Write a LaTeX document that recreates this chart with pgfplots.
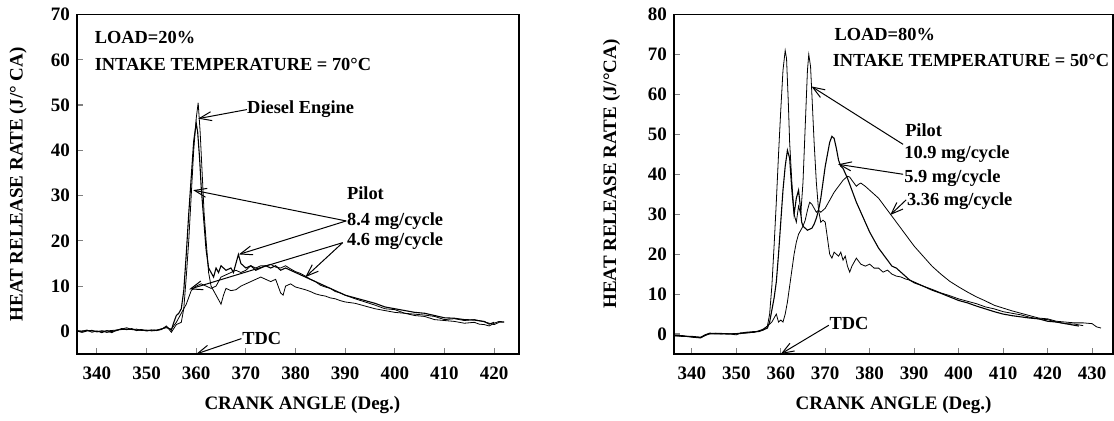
\documentclass[border=0pt]{standalone}
\usepackage{fontspec}
\setmainfont{Liberation Serif}
\usepackage{pgfplots}
\pgfplotsset{compat=1.18}
\usetikzlibrary{arrows.meta}
\tikzset{
  arr/.style={line width=0.5pt, -{Straight Barb[length=6pt,width=4.5pt]}},
  ann/.style={font=\bfseries\fontsize{9.2}{10}\selectfont, inner sep=0pt},
}
\pgfplotsset{
  hrr/.style={
    scale only axis,
    anchor=south west,
    axis line style={line width=0.6pt},
    tick align=inside,
    xtick pos=bottom, ytick pos=left,
    major tick length=3pt,
    tick style={line width=0.6pt},
    /pgf/number format/assume math mode=true,
    ticklabel style={font=\bfseries\fontsize{9.5}{10}\selectfont},
    xticklabel style={yshift=-3pt},
    label style={font=\bfseries\fontsize{9.5}{10}\selectfont},
    cycle list={{black, line width=0.55pt}},
    every axis plot/.append style={no marks},
    clip=false,
  },
}
\begin{document}
\begin{tikzpicture}
\useasboundingbox (0,0) rectangle (557pt,210pt);
% ---------------- LEFT ----------------
\begin{axis}[hrr, at={(38.5pt,33pt)}, width=221pt, height=169.75pt,
  xmin=336, xmax=425, ymin=-5, ymax=70,
  xtick={340,350,...,420}, ytick={0,10,...,70},
  xlabel={CRANK ANGLE (Deg.)},
  ylabel={HEAT RELEASE RATE (J/° CA)},
  ylabel style={at={(axis description cs:-0.1335,0.5)}, anchor=center},
  xlabel style={at={(axis description cs:0.51,-0.15)}, anchor=center},
]
% Diesel engine
\addplot coordinates {(336,0.2)(337,0)(338,0.3)(339,-0.2)(340,0.1)(341,-0.3)(342,0.2)(343,-0.3)(344,0.3)(345,0.5)(346,0.8)(347,0.4)(348,0.5)(349,0.2)(350,0.3)(351,0.1)(352,0.2)(353,0.4)(354,1.2)(355,-0.2)(356,1.5)(357,2)(357.5,5)(358,12)(358.5,20)(359,30)(359.5,40)(360,47)(360.4,50.5)(360.8,44)(361.2,35)(361.6,26)(362,20)(362.5,13)(363,10)(363.5,9)(364,8)(364.5,7)(365,6)(365.5,8)(366,9.5)(367,9)(368,9.2)(369,10)(370,10.5)(371,11)(372,11.5)(373,12)(374,11.5)(375,11)(376,11.5)(377,8.5)(377.5,8)(378,10)(379,10.5)(380,9.8)(381,9.5)(382,9.2)(383,8.8)(384,8.3)(385,8)(386,7.8)(387,7.4)(388,7.2)(389,6.8)(390,6.5)(392,6.2)(394,5.6)(396,5.0)(398,4.6)(400,4.2)(402,4.0)(404,3.5)(406,3.3)(408,2.6)(410,2.4)(412,2.2)(414,1.8)(416,2.0)(417,1.6)(418,1.5)(419,1.2)(420,1.8)(421,2.2)(422,2.1)};
% Pilot 8.4 mg/cycle
\addplot coordinates {(336,0.1)(337,-0.2)(338,0.1)(339,0.2)(340,-0.1)(341,0.1)(342,-0.2)(343,0)(344,0.2)(345,0.6)(346,0.4)(347,0.6)(348,0.2)(349,0.4)(350,0.1)(351,0.3)(352,0.2)(353,0.5)(354,1)(355,0.3)(355.5,2)(356,3.5)(356.5,4)(357,5)(357.5,9)(358,17)(358.5,26)(359,34)(359.5,42)(360,46)(360.3,44)(360.7,38)(361,32)(361.5,25)(362,18)(362.5,14)(363,13)(363.5,12)(364,14)(364.5,13)(365,14.5)(366,13.5)(367,14)(367.5,13)(368,15)(368.5,17)(369,15)(370,14)(371,14.5)(372,13.5)(373,14)(374,14.5)(375,14)(376,14.5)(377,13.5)(378,14)(379,13.5)(380,13)(381,12.5)(382,12)(383,11.5)(384,11)(385,10.5)(386,10)(387,9.5)(388,9)(389,8.5)(390,8)(392,7.4)(394,6.8)(396,6.2)(398,5.4)(400,5.0)(402,4.6)(404,4.2)(406,4.0)(408,3.5)(410,3.0)(412,2.9)(414,2.6)(416,2.5)(418,2.2)(419,1.6)(420,2.0)};
% Pilot 4.6 mg/cycle
\addplot coordinates {(336,0)(338,0.2)(340,0)(342,0.1)(344,0.3)(346,0.5)(348,0.3)(350,0.2)(352,0.3)(354,0.8)(355,0.5)(356,2)(357,4)(358,6)(359,9)(360,10)(361,10.5)(362,10)(363,9.5)(364,10)(365,12)(366,12.5)(367,13)(368,13.5)(369,13)(370,13.5)(371,14.5)(372,14)(373,14.5)(374,14.5)(375,14.8)(376,14.2)(377,14)(378,14.5)(379,13.8)(380,13.2)(381,12.8)(382,12.2)(383,11.5)(384,11)(385,10.2)(386,9.8)(387,9.5)(388,8.8)(389,8.5)(390,8)(392,7.2)(394,6.5)(396,5.8)(398,5.0)(400,4.8)(402,4.0)(404,3.8)(406,3.6)(408,3.3)(410,2.6)(412,2.8)(414,2.4)(416,2.6)(418,2.1)(420,1.5)(421,2.0)(422,2.0)};
% annotations
\node[ann, anchor=west] at (axis cs:339.5,65) {LOAD=20\%};
\node[ann, anchor=west] at (axis cs:339.5,59) {INTAKE TEMPERATURE = 70°C};
\node[ann, anchor=west] at (axis cs:370.2,49) {Diesel Engine};
\draw[arr] (axis cs:370.2,49) -- (axis cs:360.4,47);
\node[ann, anchor=west] at (axis cs:390.3,30.5) {Pilot};
\node[ann, anchor=west] at (axis cs:390.3,24.4) {8.4 mg/cycle};
\node[ann, anchor=west] at (axis cs:390.3,20) {4.6 mg/cycle};
\draw[arr] (axis cs:390.2,24.4) -- (axis cs:359.4,31.2);
\draw[arr] (axis cs:390.2,24.4) -- (axis cs:368.6,17);
\draw[arr] (axis cs:389.5,19.6) -- (axis cs:358.6,9.3);
\draw[arr] (axis cs:389.5,19.6) -- (axis cs:382,12);
\node[ann, anchor=west] at (axis cs:369.2,-1.6) {TDC};
\draw[arr] (axis cs:369.1,-1.6) -- (axis cs:360,-5);
\end{axis}
% ---------------- RIGHT ----------------
\begin{axis}[hrr, at={(337pt,33pt)}, width=219.5pt, height=169.75pt,
  xmin=336, xmax=434.7, ymin=-5, ymax=80,
  xtick={340,350,...,430}, ytick={0,10,...,80},
  xlabel={CRANK ANGLE (Deg.)},
  ylabel={HEAT RELEASE RATE (J/°CA)},
  ylabel style={at={(axis description cs:-0.142,0.53)}, anchor=center},
  xlabel style={at={(axis description cs:0.50,-0.15)}, anchor=center},
]
% Pilot 10.9 mg/cycle
\addplot coordinates {(336,-0.5)(338,-0.5)(340,-0.8)(342,-1)(343,-0.3)(344,0)(346,0)(348,0.1)(350,-0.2)(351,0.3)(352,0.2)(354,0.5)(355,0.8)(356,1.2)(357,2)(357.5,5)(358,12)(358.5,22)(359,33)(359.5,45)(360,56)(360.5,66)(361,71)(361.3,69)(361.7,58)(362,48)(362.5,38)(363,30)(363.5,28)(364,32)(364.5,30)(365,38)(365.5,52)(366,66)(366.3,70)(366.7,67)(367,60)(367.5,48)(368,38)(368.5,31)(369,28)(369.5,28.5)(370,28)(370.5,24)(371,20)(371.5,19)(372,20.5)(373,19.5)(373.5,20.5)(374,18.5)(374.5,19.5)(375,17)(375.5,15.5)(376,17)(377,19)(378,17.5)(379,17)(380,17.5)(381,16.5)(382,16.5)(383,15.5)(384,16)(385,15)(386,14.5)(387,14.3)(388,13.8)(389,13.5)(390,12.8)(392,12)(394,11.2)(396,10.3)(398,9.6)(400,8.8)(402,8.2)(404,7.6)(406,6.8)(408,6.3)(410,5.6)(412,5.2)(414,4.8)(416,4.2)(418,3.8)(420,3.6)(422,3.0)(424,2.6)(426,2.5)(428,2.1)};
% Pilot 5.9 mg/cycle
\addplot coordinates {(336,-0.3)(338,-0.6)(340,-0.6)(342,-0.8)(343,-0.2)(344,0.2)(346,0.1)(348,0)(350,0.1)(351,0.2)(352,0.4)(354,0.6)(355,0.6)(356,1)(357,1.5)(357.5,3)(358,6)(358.5,9)(359,13)(359.5,20)(360,28)(360.5,36)(361,42)(361.5,46)(362,44)(362.5,36)(363,30)(363.5,34)(364,36)(364.3,33)(364.7,28)(365,27)(366,26)(367,26.5)(367.5,27.5)(368,29)(368.5,31)(369,34)(369.5,38)(370,42)(370.5,45)(371,48)(371.5,49.5)(372,49)(372.5,46.5)(373,43.5)(373.5,42)(374,41.5)(375,39)(376,36)(377,33)(378,30.5)(379,28)(380,25.5)(381,23.5)(382,21.5)(383,20)(384,18.5)(385,17)(386,16.5)(387,15.5)(388,14.5)(389,13.5)(390,13)(392,12)(394,11)(396,10.2)(398,9.3)(400,8.4)(402,7.8)(404,7.0)(406,6.3)(408,5.6)(410,5.0)(412,4.6)(414,4.3)(416,4.0)(418,3.8)(420,3.2)(422,3.0)(424,2.6)(426,2.2)(427,2.0)};
% Pilot 3.36 mg/cycle
\addplot coordinates {(336,-0.4)(338,-0.4)(340,-0.7)(342,-0.9)(343,-0.4)(344,0.1)(346,0.2)(348,0.1)(350,0)(351,0.1)(352,0.3)(354,0.4)(355,0.7)(356,1)(357,2)(358,3)(359,5)(359.5,3)(360,3.5)(360.5,3)(361,5)(361.5,8)(362,12)(362.5,16)(363,20)(363.5,23)(364,25)(365,27)(365.5,28.5)(366,31)(366.5,33)(367,32.5)(367.5,31.5)(368,30.5)(368.5,31)(369,30.5)(370,31.5)(371,33.5)(372,35.5)(373,37)(374,38.5)(375,39.5)(375.5,39.3)(376,38.5)(377,37)(377.5,37.5)(378,37.8)(379,37)(380,36)(381,35)(382,34)(383,32.5)(384,31)(385,29.5)(386,28)(387,26.5)(388,25)(389,23.5)(390,22)(392,19.5)(394,17)(396,15)(398,13.2)(400,11.8)(402,10.5)(404,9.3)(406,8.3)(408,7.2)(410,6.5)(412,5.8)(414,5.2)(416,4.6)(418,4.0)(420,3.8)(422,3.2)(424,3.0)(426,2.8)(428,2.8)(430,2.6)(431,1.8)(432,1.5)};
% annotations
\node[ann, anchor=west] at (axis cs:372,75) {LOAD=80\%};
\node[ann, anchor=west] at (axis cs:371.6,68.4) {INTAKE TEMPERATURE = 50°C};
\node[ann, anchor=west] at (axis cs:387.9,51) {Pilot};
\node[ann, anchor=west] at (axis cs:387.7,45) {10.9 mg/cycle};
\node[ann, anchor=west] at (axis cs:387.7,39) {5.9 mg/cycle};
\node[ann, anchor=west] at (axis cs:388.3,33.2) {3.36 mg/cycle};
\draw[arr] (axis cs:387.5,47.5) -- (axis cs:366.9,62);
\draw[arr] (axis cs:387.5,40) -- (axis cs:372.9,42.5);
\draw[arr] (axis cs:388.2,33.6) -- (axis cs:384.6,29.8);
\node[ann, anchor=west] at (axis cs:370.9,2.6) {TDC};
\draw[arr] (axis cs:370.8,2.2) -- (axis cs:360,-5);
\end{axis}
\end{tikzpicture}
\end{document}
